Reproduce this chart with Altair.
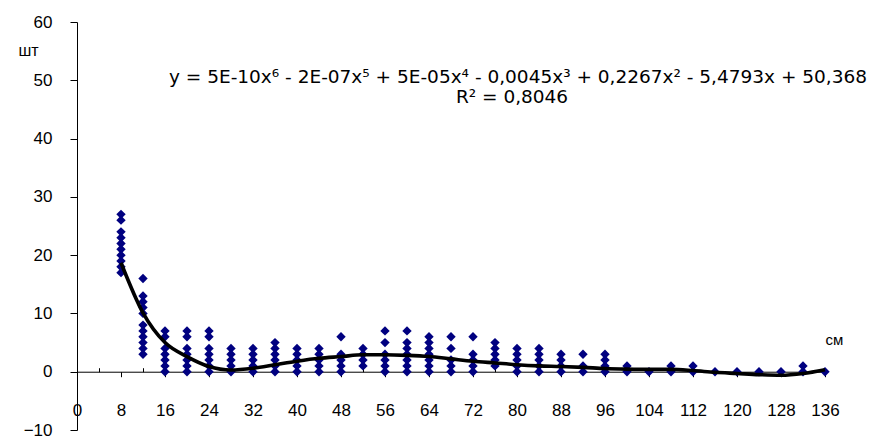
import altair as alt
import pandas as pd

# ---- data ----
sizes = [8, 12, 16, 20, 24, 28, 32, 36, 40, 44, 48, 52, 56, 60, 64, 68, 72,
         76, 80, 84, 88, 92, 96, 100, 104, 108, 112, 116, 120, 124, 128, 132, 136]
counts = [
    [27, 26, 24, 23, 22, 21, 20, 19, 18, 17],      # 8
    [16, 13, 12, 11, 10, 8, 7, 6, 5, 4, 3],         # 12
    [7, 6, 4, 3, 2, 1, 0],                          # 16
    [7, 6, 4, 3, 2, 1, 0],                          # 20
    [7, 6, 4, 3, 2, 1, 0],                          # 24
    [4, 3, 2, 1, 0],                                # 28
    [4, 3, 2, 1, 0],                                # 32
    [5, 4, 3, 2, 1, 0],                             # 36
    [4, 3, 2, 1, 0],                                # 40
    [4, 3, 2, 1, 0],                                # 44
    [6, 3, 2, 1, 0],                                # 48
    [4, 3, 2, 1],                                   # 52
    [7, 5, 3, 2, 1, 0],                             # 56
    [7, 5, 4, 3, 2, 1, 0],                          # 60
    [6, 5, 4, 3, 2, 1, 0],                          # 64
    [6, 4, 2, 1, 0],                                # 68
    [6, 3, 2, 1, 0],                                # 72
    [5, 4, 3, 2, 1],                                # 76
    [4, 3, 2, 1, 0],                                # 80
    [4, 3, 2, 1, 0],                                # 84
    [3, 2, 1, 0],                                   # 88
    [3, 1, 0],                                      # 92
    [3, 2, 1, 0],                                   # 96
    [1, 0],                                         # 100
    [0],                                            # 104
    [1, 0],                                         # 108
    [1, 0],                                         # 112
    [0],                                            # 116
    [0],                                            # 120
    [0],                                            # 124
    [0],                                            # 128
    [1, 0],                                         # 132
    [0],                                            # 136
]
# 6th-order trend line, values at each size class
trend_values = [18.7, 10.1, 5.0, 2.6, 0.9, 0.3, 0.6, 1.2, 1.8, 2.3, 2.6, 2.9, 2.9,
                2.8, 2.6, 2.2, 1.8, 1.5, 1.2, 1.0, 0.9, 0.75, 0.55, 0.45, 0.4, 0.4,
                0.2, -0.1, -0.3, -0.5, -0.6, -0.3, 0.35]
y_ticks = [-10, 0, 10, 20, 30, 40, 50, 60]
x_major = list(range(0, 137, 8))
x_minor = list(range(4, 137, 8))
eq_text = "y = 5E-10x\u2076 - 2E-07x\u2075 + 5E-05x\u2074 - 0,0045x\u00b3 + 0,2267x\u00b2 - 5,4793x  + 50,368"
r2_text = "R\u00b2 = 0,8046"
y_unit = "шт"
x_unit = "см"

rows = [{"size": s, "count": c} for s, col in zip(sizes, counts) for c in col]
df = pd.DataFrame(rows)
trend_df = pd.DataFrame({"size": sizes, "count": trend_values})

FONT = "Liberation Sans"
W, H = 748, 408
zero_off = H * 10 / 70  # distance of y=0 from bottom

xscale = alt.Scale(domain=[0, 136], nice=False, zero=False)
yscale = alt.Scale(domain=[-10, 60], nice=False)

yaxis = alt.Axis(values=y_ticks, grid=False, domainColor="black", tickColor="black",
                 tickSize=7, labelPadding=18, labelFontSize=17, labelFont=FONT,
                 labelColor="black", title=y_unit, titleAngle=0, titleX=-49, titleY=28,
                 titleAlign="center", titleBaseline="middle", titleFont=FONT,
                 titleFontSize=16, titleFontWeight="normal", titleColor="black")

xaxis_major = alt.Axis(values=x_major, orient="bottom", offset=-zero_off, grid=False,
                       domainColor="black", tickColor="black", tickSize=5,
                       labelPadding=26, labelFontSize=17, labelFont=FONT,
                       labelColor="black", labelFlush=False, labelOverlap=False,
                       title=x_unit, titleX=757, titleY=-32, titleAlign="center",
                       titleBaseline="middle", titleFont=FONT, titleFontSize=15,
                       titleFontWeight="normal", titleColor="black")

xaxis_minor = alt.Axis(values=x_minor, orient="top", offset=-(H - zero_off), grid=False,
                       domain=False, labels=False, tickColor="black", tickSize=4,
                       title=None)

points = alt.Chart(df).mark_point(
    shape="diamond", filled=True, size=88, color="#000080", opacity=1
).encode(
    x=alt.X("size:Q", scale=xscale, axis=xaxis_major),
    y=alt.Y("count:Q", scale=yscale, axis=yaxis),
)

trend = alt.Chart(trend_df).mark_line(
    color="black", strokeWidth=3.6, interpolate="monotone"
).encode(
    x=alt.X("size:Q", scale=xscale, axis=xaxis_minor),
    y=alt.Y("count:Q", scale=yscale, axis=yaxis),
)

eq = alt.Chart(pd.DataFrame({"t": [eq_text]})).mark_text(
    font="DejaVu Sans", fontSize=18.5, color="black", align="center", baseline="middle"
).encode(text="t:N", x=alt.value(441), y=alt.value(55))

r2 = alt.Chart(pd.DataFrame({"t": [r2_text]})).mark_text(
    font="DejaVu Sans", fontSize=18.5, color="black", align="center", baseline="middle"
).encode(text="t:N", x=alt.value(435), y=alt.value(75))

chart = alt.layer(points, trend, eq, r2).resolve_axis(x="independent").properties(
    width=W, height=H,
    padding={"left": 77, "top": 22, "right": 45, "bottom": 8},
    autosize=alt.AutoSizeParams(type="none"),
    background="white",
).configure_view(stroke=None)

chart.save("out.html", embed_options={"renderer": "svg", "actions": False})
